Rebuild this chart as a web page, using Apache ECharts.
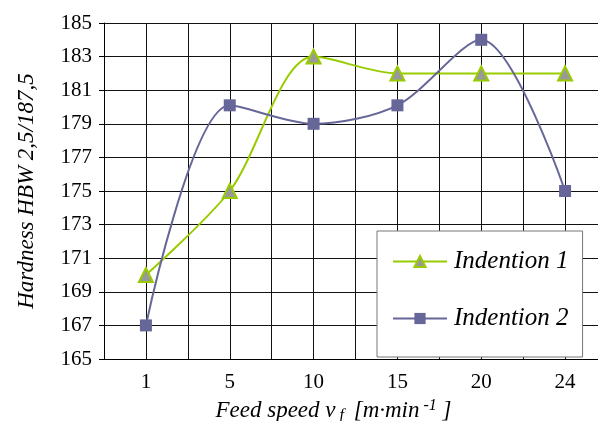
<!DOCTYPE html>
<html>
<head>
<meta charset="utf-8">
<script src="https://cdn.jsdelivr.net/npm/echarts@6/dist/echarts.min.js"></script>
<style>
  html, body { margin: 0; padding: 0; background: #fff; }
  #main { width: 598px; height: 421px; }
</style>
</head>
<body>
<div id="main"></div>
<script>
// feed speed categories (m/min)
var speeds = ['1', '5', '10', '15', '20', '24'];
// hardness values
var indention1 = [170, 175, 183, 182, 182, 182];
var indention2 = [167, 180.1, 179, 180.1, 184, 175];

var serif = 'Liberation Serif';
var myChart = echarts.init(document.getElementById('main'));

var option = {
    animation: false,
    grid: {
        left: 104,
        top: 23,
        width: 503,
        bottom: 62,
        containLabel: false,
        outerBoundsMode: 'none'
    },
    legend: {
        orient: 'vertical',
        left: 377,
        top: 231,
        padding: [18, 14, 26, 15],
        itemGap: 32,
        itemWidth: 54,
        itemHeight: 14,
        backgroundColor: '#fff',
        borderColor: '#777',
        borderWidth: 1,
        textStyle: { fontFamily: serif, fontStyle: 'italic', fontSize: 25, color: '#000', padding: [0, 0, 0, 2] },
        data: ['Indention 1', 'Indention 2']
    },
    xAxis: [{
        type: 'category',
        data: speeds,
        boundaryGap: true,
        axisLine: { lineStyle: { color: '#000', width: 1 } },
        axisTick: { length: 5, lineStyle: { color: '#000' } },
        axisLabel: { fontFamily: serif, fontSize: 21, color: '#000', margin: 13 },
        splitLine: { show: false },
        name: '{i|Feed speed v}{sub| f }{i| [m·min}{sup| -1}{i| ]}',
        nameLocation: 'middle',
        nameGap: 36,
        nameTextStyle: {
            padding: [0, 44, 0, 0],
            rich: {
                i: { fontFamily: serif, fontStyle: 'italic', fontSize: 23, color: '#000', lineHeight: 26 },
                sub: { fontFamily: serif, fontStyle: 'italic', fontSize: 16, color: '#000', verticalAlign: 'bottom', lineHeight: 26 },
                sup: { fontFamily: serif, fontStyle: 'italic', fontSize: 16, color: '#000', verticalAlign: 'top', lineHeight: 26 }
            }
        }
    }, {
        // half-category grid lines
        type: 'value',
        min: 0,
        max: 12,
        interval: 1,
        position: 'bottom',
        axisLine: { show: false },
        axisTick: { show: false },
        axisLabel: { show: false },
        splitLine: { show: true, lineStyle: { color: '#111', width: 1 } }
    }],
    yAxis: {
        type: 'value',
        min: 165,
        max: 185,
        interval: 2,
        axisLine: { show: true, lineStyle: { color: '#000', width: 1 } },
        axisTick: { show: true, length: 5, lineStyle: { color: '#000' } },
        axisLabel: { fontFamily: serif, fontSize: 21, color: '#000', margin: 12 },
        splitLine: { show: true, lineStyle: { color: '#111', width: 1 } },
        name: 'Hardness HBW 2,5/187,5',
        nameLocation: 'middle',
        nameGap: 66,
        nameTextStyle: { fontFamily: serif, fontStyle: 'italic', fontSize: 23, color: '#000' }
    },
    series: [{
        name: 'Indention 1',
        type: 'line',
        data: indention1,
        smooth: 0.3,
        symbol: 'triangle',
        symbolSize: 14,
        lineStyle: { color: '#99cc00', width: 2 },
        itemStyle: { color: '#999999', borderColor: '#99cc00', borderWidth: 2 },
        z: 3
    }, {
        name: 'Indention 2',
        type: 'line',
        data: indention2,
        smooth: 0.3,
        symbol: 'rect',
        symbolSize: 12,
        lineStyle: { color: '#666699', width: 2 },
        itemStyle: { color: '#666699', borderColor: '#666699', borderWidth: 0 },
        z: 4
    }]
};

myChart.setOption(option);
</script>
</body>
</html>
